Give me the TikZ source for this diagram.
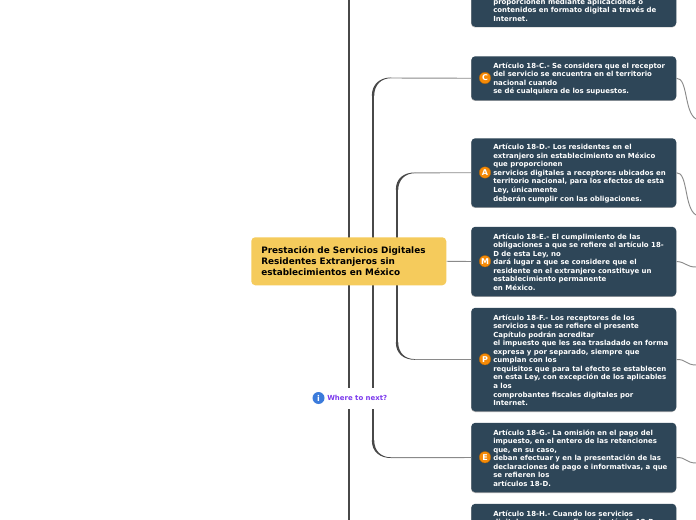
\documentclass[tikz,border=0pt]{standalone}
\usepackage{fontspec}
\setmainfont{DejaVu Sans}
\usetikzlibrary{calc}
\definecolor{boxc}{HTML}{2E4658}
\definecolor{rootc}{HTML}{F5CB5C}
\definecolor{linec}{HTML}{484848}
\definecolor{thinc}{HTML}{8A8A8A}
\definecolor{iconc}{HTML}{F58A07}
\definecolor{purp}{HTML}{7C3AED}
\definecolor{infoc}{HTML}{3B7BDB}
\tikzset{
 x=0.75pt,y=-0.75pt,
 artbox/.style={draw=none,fill=boxc,rounded corners=3pt,minimum width=153.75pt,inner sep=0pt,anchor=north west},
 arttext/.style={anchor=west,inner sep=0pt,text=white,align=left,font=\bfseries\fontsize{5.22pt}{6.42pt}\selectfont},
 icon/.style={circle,fill=iconc,draw=iconc!70!black,line width=0.2pt,minimum size=8.6pt,inner sep=0pt,text=white,font=\bfseries\fontsize{6pt}{6pt}\selectfont},
 trunk/.style={draw=linec,line width=1.9pt},
 thin line/.style={draw=thinc,line width=0.7pt},
 shadowbox/.style={fill=black!30,rounded corners=3pt}
}
\newcommand{\artbox}[6]{%
 \fill[shadowbox] (471,#2+1) rectangle (676,#2+#3+1);
 \node[artbox,minimum height=#3*0.75pt] (#1) at (471,#2) {};
 \node[arttext] (#1t) at ($(#1.west)+(22,0.6)+(0,#6)$) {#5};
 \ifx\relax#4\relax\else\node[icon] (#1i) at (485,#2+#3/2) {#4};\fi
}
\begin{document}
\begin{tikzpicture}
\useasboundingbox (0,0) rectangle (696,520);
\clip (0,0) rectangle (696,520);
\fill[white] (0,0) rectangle (696,520);
\coordinate (t1) at (349,0);
\coordinate (t1b) at (349,520);
\draw[trunk] (t1) -- (t1b);
\coordinate (a1) at (373,96);
\coordinate (a2) at (373,440);
\coordinate (b1) at (397,190);
\coordinate (b2) at (397,342);
\draw[trunk] (a1) -- (a2);
\draw[trunk] (b1) -- (b2);
\fill[linec] (371.8,96) .. controls (371.8,84) and (380,77.5) .. (391,77.5) -- (391,78.2) .. controls (381,78.2) and (374.2,85) .. (374.2,96) -- cycle;
\fill[linec] (371.8,440) .. controls (371.8,452) and (380,458) .. (391,458) -- (391,457.3) .. controls (381,457.3) and (374.2,451) .. (374.2,440) -- cycle;
\fill[linec] (395.8,190) .. controls (395.8,178) and (404,172.5) .. (415,172.5) -- (415,173.2) .. controls (405,173.2) and (398.2,180) .. (398.2,190) -- cycle;
\fill[linec] (395.8,342) .. controls (395.8,354) and (404,359.8) .. (415,359.8) -- (415,359.1) .. controls (405,359.1) and (398.2,353) .. (398.2,342) -- cycle;
\artbox{top}{-40}{66.5}{}{proporcionen mediante aplicaciones o\\contenidos en formato digital a través de\\Internet.}{16.25}
\artbox{c}{56}{44}{C}{Artículo 18-C.- Se considera que el receptor\\del servicio se encuentra en el territorio\\nacional cuando\\se dé cualquiera de los supuestos.}{0}
\artbox{d}{138}{69}{A}{Artículo 18-D.- Los residentes en el\\extranjero sin establecimiento en México\\que proporcionen\\servicios digitales a receptores ubicados en\\territorio nacional, para los efectos de esta\\Ley, únicamente\\deberán cumplir con las obligaciones.}{0}
\artbox{e}{226.5}{69.5}{M}{Artículo 18-E.- El cumplimiento de las\\obligaciones a que se refiere el artículo 18-\\D de esta Ley, no\\dará lugar a que se considere que el\\residente en el extranjero constituye un\\establecimiento permanente\\en México.}{0}
\artbox{f}{307.5}{103.5}{P}{Artículo 18-F.- Los receptores de los\\servicios a que se refiere el presente\\Capítulo podrán acreditar\\el impuesto que les sea trasladado en forma\\expresa y por separado, siempre que\\cumplan con los\\requisitos que para tal efecto se establecen\\en esta Ley, con excepción de los aplicables\\a los\\comprobantes fiscales digitales por\\Internet.}{0}
\artbox{g}{422.5}{69.5}{E}{Artículo 18-G.- La omisión en el pago del\\impuesto, en el entero de las retenciones\\que, en su caso,\\deban efectuar y en la presentación de las\\declaraciones de pago e informativas, a que\\se refieren los\\artículos 18-D.}{0}
\artbox{h}{503.5}{60}{}{Artículo 18-H.- Cuando los servicios\\digitales a que se refiere el artículo 18-B}{-15.7}
\draw[thin line] (391,78) -- (c.west);
\draw[thin line] (415,172.8) -- (d.west);
\draw[thin line] (391,457.7) -- (g.west);
\draw[thin line] (415,359.5) -- (f.west);
\node[fill=rootc,rounded corners=3pt,minimum width=146.25pt,minimum height=36pt,inner sep=0pt,anchor=north west] (root) at (251,237) {};
\node[anchor=west,inner sep=0pt,align=left,font=\bfseries\fontsize{6.65pt}{8.25pt}\selectfont] (roott) at (261,261) {Prestación de Servicios Digitales\\Residentes Extranjeros sin\\establecimientos en México};
\draw[thin line] (root.east) -- (e.west);
\coordinate (rc) at (696,119);
\coordinate (rd) at (696,215);
\coordinate (re) at (696,267);
\coordinate (rf) at (696,365);
\coordinate (rg) at (696,463);
\draw[thin line] (c.east) .. controls (688,78) and (684,112) .. (rc);
\draw[thin line] (d.east) .. controls (688,172) and (684,208) .. (rd);
\draw[thin line] (e.east) .. controls (686,262) and (686,267) .. (re);
\draw[thin line] (f.east) .. controls (686,359) and (686,365) .. (rf);
\draw[thin line] (g.east) .. controls (686,457) and (686,463) .. (rg);
\fill[white] (311,388) rectangle (391,409);
\node[circle,fill=infoc,minimum size=9pt,inner sep=0pt,text=white,font=\bfseries\fontsize{6pt}{6pt}\selectfont] (info) at (318.5,398) {i};
\node[anchor=west,inner sep=0pt,text=purp,font=\bfseries\fontsize{5.22pt}{6pt}\selectfont] (next) at (327,398) {Where to next?};
\end{tikzpicture}
\end{document}
